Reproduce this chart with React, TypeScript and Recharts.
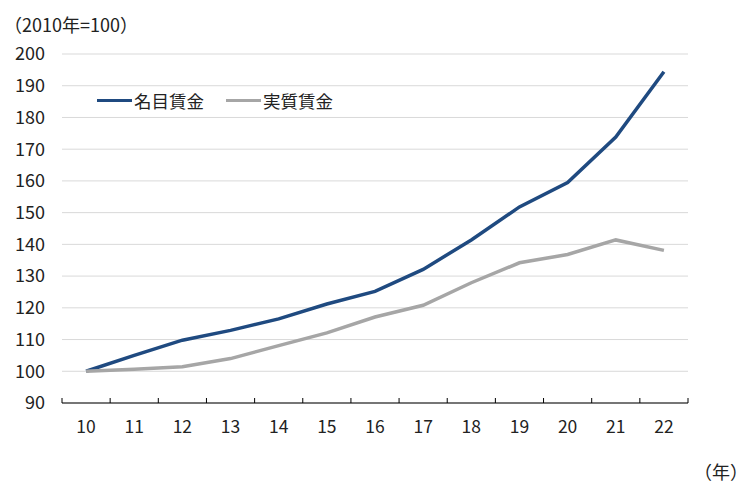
import React from 'react';
import { LineChart, Line, XAxis, YAxis, CartesianGrid } from 'recharts';

// --- data (2010 = 100) ---
const years = ['10', '11', '12', '13', '14', '15', '16', '17', '18', '19', '20', '21', '22'];
const nominalWage = [100, 105.0, 109.8, 112.9, 116.5, 121.2, 125.2, 132.1, 141.4, 151.8, 159.5, 173.8, 194.4];
const realWage = [100, 100.6, 101.4, 104.0, 108.1, 112.1, 117.1, 120.8, 127.9, 134.2, 136.8, 141.4, 138.1];
const yTicks = [90, 100, 110, 120, 130, 140, 150, 160, 170, 180, 190, 200];

const seriesNames = { nominal: '名目賃金', real: '実質賃金' };
const BLUE = '#1f4a80';
const GRAY = '#a6a6a6';
const FONT = '"Noto Sans CJK JP", "Noto Sans", sans-serif';

const chartData = years.map((y, i) => ({ year: y, nominal: nominalWage[i], real: realWage[i] }));

// half of one category band: plot width 626px / 13 categories
const HALF_BAND = 626 / 13 / 2;

const YearTick = (props: any) => {
    const { x, y, payload, index } = props;
    const last = index === years.length - 1;
    return (
        <g>
            <line x1={x - HALF_BAND} x2={x - HALF_BAND} y1={y} y2={y - 5} stroke="#000" />
            {last && <line x1={x + HALF_BAND} x2={x + HALF_BAND} y1={y} y2={y - 5} stroke="#000" />}
            <text x={x} y={y + 18} dy="0.71em" textAnchor="middle" fill="#222" fontSize={17.5} fontFamily={FONT}>
                {payload.value}
            </text>
        </g>
    );
};

const LegendBox = () => (
    <div style={{ display: 'flex', alignItems: 'center', fontFamily: FONT, fontSize: 17.5, color: '#222' }}>
        {[{ name: seriesNames.nominal, color: BLUE }, { name: seriesNames.real, color: GRAY }].map((s, i) => (
            <div key={s.name} style={{ display: 'flex', alignItems: 'center', marginLeft: i ? 22 : 0 }}>
                <span style={{ display: 'inline-block', width: 35, height: 3.5, background: s.color, marginRight: 2 }} />
                <span>{s.name}</span>
            </div>
        ))}
    </div>
);

export default function App() {
    return (
        <div style={{ position: 'relative', width: 744, height: 484, background: '#fff', fontFamily: FONT }}>
            <div style={{ position: 'absolute', left: -4, top: 3, fontSize: 18, color: '#222', whiteSpace: 'nowrap' }}>
                （2010年=100）
            </div>
            <div style={{ position: 'absolute', right: 4, top: 450, fontSize: 18, color: '#222' }}>（年）</div>
            <div style={{ position: 'absolute', left: 89, top: 80, zIndex: 1 }}>
                <LegendBox />
            </div>
            <LineChart
                width={744}
                height={484}
                data={chartData}
                margin={{ top: 46, right: 64, left: 0, bottom: 59 }}
            >
                <CartesianGrid vertical={false} stroke="#d9d9d9" />
                <XAxis
                    dataKey="year"
                    height={30}
                    padding={{ left: HALF_BAND, right: HALF_BAND }}
                    axisLine={{ stroke: '#000' }}
                    tickLine={false}
                    tickSize={0}
                    tickMargin={0}
                    interval={0}
                    tick={<YearTick />}
                />
                <YAxis
                    width={54}
                    domain={[90, 200]}
                    ticks={yTicks}
                    interval={0}
                    axisLine={false}
                    tickLine={false}
                    tickSize={0}
                    tickMargin={17}
                    tick={{ fill: '#222', fontSize: 18, fontFamily: FONT }}
                />
                <Line
                    dataKey="nominal"
                    name={seriesNames.nominal}
                    stroke={BLUE}
                    strokeWidth={3.5}
                    dot={false}
                    isAnimationActive={false}
                />
                <Line
                    dataKey="real"
                    name={seriesNames.real}
                    stroke={GRAY}
                    strokeWidth={3.5}
                    dot={false}
                    isAnimationActive={false}
                />
            </LineChart>
        </div>
    );
}
